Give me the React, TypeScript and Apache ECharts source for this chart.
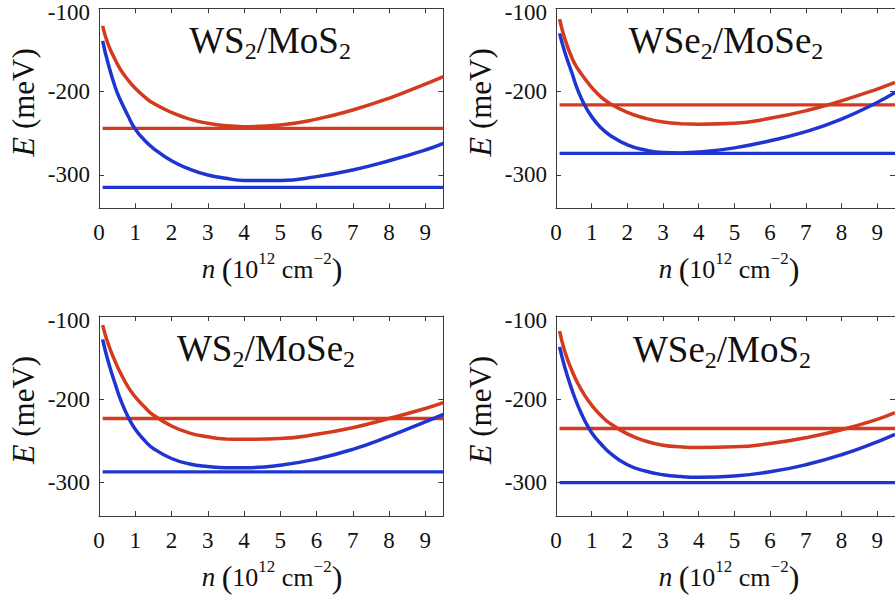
import React, { useEffect, useRef } from 'react';
import * as echarts from 'echarts';

// carrier density n (10^12 cm^-2) sample points
const nValues = [0.1, 0.25, 0.45, 0.6, 0.8, 1, 1.25, 1.5, 2, 2.5, 3, 3.5, 4, 5, 6, 7, 8, 9, 9.5];

// WS2/MoS2
const ws2mos2Red = [-121, -143, -162, -174, -186, -196, -206, -214, -225, -233, -238, -241, -242, -240, -233, -222, -208, -191, -182];
const ws2mos2Blue = [-139, -166, -195, -211, -229, -245, -258, -268, -283, -293, -300, -304, -306.5, -306.5, -302, -294, -283, -270, -262];
const ws2mos2RedLevel = -244;
const ws2mos2BlueLevel = -315;

// WSe2/MoSe2
const wse2mose2Red = [-113, -137, -160, -172, -184, -195, -206, -214, -225, -232, -236.5, -238.5, -239, -238, -232, -223, -211, -197, -189];
const wse2mose2Blue = [-130, -153, -178, -197, -216, -230, -243, -252, -264, -270, -273, -273.5, -272.5, -267.5, -259, -248, -233, -213, -201];
const wse2mose2RedLevel = -216;
const wse2mose2BlueLevel = -274;

// WS2/MoSe2
const ws2mose2Red = [-111, -133, -155, -169, -185, -197, -209, -219, -232, -240.5, -245, -247.5, -248, -247, -242, -234, -223, -211, -204];
const ws2mose2Blue = [-128, -154, -182, -201, -221, -236, -249, -259, -271, -277.5, -280.5, -282, -282, -279, -271.5, -260, -244.5, -227, -218];
const ws2mose2RedLevel = -223;
const ws2mose2BlueLevel = -287;

// WSe2/MoS2
const wse2mos2Red = [-118, -143, -166, -180, -195, -207, -219, -228.5, -241.5, -250, -255, -257, -257.7, -257, -253, -246, -236.5, -224, -216];
const wse2mos2Blue = [-137, -162, -189, -206, -225, -240, -253, -264, -278.5, -286, -290.5, -292.7, -293.5, -292, -287, -278.5, -266.5, -251, -242];
const wse2mos2RedLevel = -235;
const wse2mos2BlueLevel = -300;

const layerA = ['WS', 'WSe', 'WS', 'WSe'];
const layerB = ['MoS', 'MoSe', 'MoSe', 'MoS'];

const xTicks = [0, 1, 2, 3, 4, 5, 6, 7, 8, 9];
const yTicks = [-300, -200, -100];
const xMin = 0;
const xMax = 9.5;
const yMin = -340;
const yMax = -100;
const lineStart = 0.1;

const redCurves = [ws2mos2Red, wse2mose2Red, ws2mose2Red, wse2mos2Red];
const blueCurves = [ws2mos2Blue, wse2mose2Blue, ws2mose2Blue, wse2mos2Blue];
const redLevels = [ws2mos2RedLevel, wse2mose2RedLevel, ws2mose2RedLevel, wse2mos2RedLevel];
const blueLevels = [ws2mos2BlueLevel, wse2mose2BlueLevel, ws2mose2BlueLevel, wse2mos2BlueLevel];

const FONT = 'Liberation Serif, serif';
const RED = '#D43A1E';
const BLUE = '#1F35D0';
const AXIS = '#3a3a3a';
const TEXT = '#111111';

const layout = [
  { left: 99, top: 8.3, titleX: 270, titleY: 40.5 },
  { left: 556, top: 8.3, titleX: 726, titleY: 40.5 },
  { left: 99, top: 316, titleX: 266, titleY: 348 },
  { left: 556, top: 316, titleX: 722, titleY: 349 },
];
const GW = 344.4;
const GH = 200;

export default function App() {
  const ref = useRef<HTMLDivElement>(null);
  useEffect(() => {
    if (!ref.current) return;
    const chart = echarts.init(ref.current, null, { renderer: 'svg' });

    const grid: any[] = [];
    const xAxis: any[] = [];
    const yAxis: any[] = [];
    const series: any[] = [];
    const graphic: any[] = [];

    const lineStyle = { color: AXIS, width: 1 };

    layout.forEach((L, p) => {
      grid.push({ left: L.left, top: L.top, width: GW, height: GH, show: false, containLabel: false });
      ['bottom', 'top'].forEach((pos) => {
        xAxis.push({
          type: 'value', gridIndex: p, position: pos, min: xMin, max: xMax, interval: 1,
          axisLine: { show: true, onZero: false, lineStyle },
          axisTick: { show: true, inside: true, length: 5, customValues: xTicks, lineStyle },
          axisLabel: {
            show: pos === 'bottom', customValues: xTicks, margin: 13,
            fontFamily: FONT, fontSize: 23, color: TEXT,
            formatter: (v: number) => (Number.isInteger(v) ? String(v) : ''),
          },
          splitLine: { show: false },
        });
      });
      ['left', 'right'].forEach((pos) => {
        yAxis.push({
          type: 'value', gridIndex: p, position: pos, min: yMin, max: yMax,
          axisLine: { show: true, onZero: false, lineStyle },
          axisTick: { show: true, inside: true, length: 5, customValues: yTicks, lineStyle },
          axisLabel: {
            show: pos === 'left', customValues: yTicks, margin: 9,
            fontFamily: FONT, fontSize: 23, color: TEXT,
            formatter: (v: number) => (v === yMax ? `{t|${v}}` : String(v)),
            rich: { t: { fontFamily: FONT, fontSize: 23, color: TEXT, padding: [8, 0, 0, 0] } },
          },
          splitLine: { show: false },
        });
      });

      const xi = 2 * p;
      const yi = 2 * p;
      const base = { type: 'line', xAxisIndex: xi, yAxisIndex: yi, showSymbol: false, symbol: 'none', silent: true };
      series.push({ ...base, data: [[lineStart, redLevels[p]], [xMax, redLevels[p]]], lineStyle: { color: RED, width: 3.3 } });
      series.push({ ...base, data: [[lineStart, blueLevels[p]], [xMax, blueLevels[p]]], lineStyle: { color: BLUE, width: 3.3 } });
      series.push({ ...base, smooth: 0.5, data: nValues.map((n, i) => [n, redCurves[p][i]]), lineStyle: { color: RED, width: 3.5 } });
      series.push({ ...base, smooth: 0.5, data: nValues.map((n, i) => [n, blueCurves[p][i]]), lineStyle: { color: BLUE, width: 3.5 } });

      // panel title
      graphic.push({
        type: 'text', x: L.titleX, y: L.titleY, silent: true,
        style: {
          text: `{m|${layerA[p]}}{s|2}{m|/${layerB[p]}}{s|2}`,
          align: 'center', verticalAlign: 'middle', fill: TEXT, fontFamily: FONT,
          rich: {
            m: { fontFamily: FONT, fontSize: 37, lineHeight: 45, fill: TEXT },
            s: { fontFamily: FONT, fontSize: 24, lineHeight: 24, verticalAlign: 'bottom', fill: TEXT },
          },
        },
      });
      // x axis title
      graphic.push({
        type: 'text', x: L.left + 173, y: L.top + GH + 61, silent: true,
        style: {
          text: '{i|n}{r| }{p|(}{r|10}{s|12}{r| cm}{s|\u22122}{p|)}',
          align: 'center', verticalAlign: 'middle', fill: TEXT, fontFamily: FONT,
          rich: {
            i: { fontFamily: FONT, fontSize: 27, fontStyle: 'italic', lineHeight: 38, fill: TEXT },
            r: { fontFamily: FONT, fontSize: 26, lineHeight: 38, fill: TEXT },
            p: { fontFamily: FONT, fontSize: 32, lineHeight: 38, fill: TEXT },
            s: { fontFamily: FONT, fontSize: 17, lineHeight: 18, verticalAlign: 'top', fill: TEXT },
          },
        },
      });
      // y axis title
      graphic.push({
        type: 'text', x: L.left - 76, y: L.top + 94, rotation: Math.PI / 2, silent: true,
        style: {
          text: '{i|E}{r| (meV)}',
          align: 'center', verticalAlign: 'middle', fill: TEXT, fontFamily: FONT,
          rich: {
            i: { fontFamily: FONT, fontSize: 32, fontStyle: 'italic', fill: TEXT },
            r: { fontFamily: FONT, fontSize: 31, fill: TEXT },
          },
        },
      });
    });

    chart.setOption({
      animation: false,
      backgroundColor: '#ffffff',
      textStyle: { fontFamily: FONT },
      grid, xAxis, yAxis, series, graphic,
    });
    return () => chart.dispose();
  }, []);
  return (
    <div
      ref={ref}
      style={{ position: 'fixed', left: 0, top: 0, width: 895, height: 597, background: '#fff', overflow: 'hidden' }}
    />
  );
}
